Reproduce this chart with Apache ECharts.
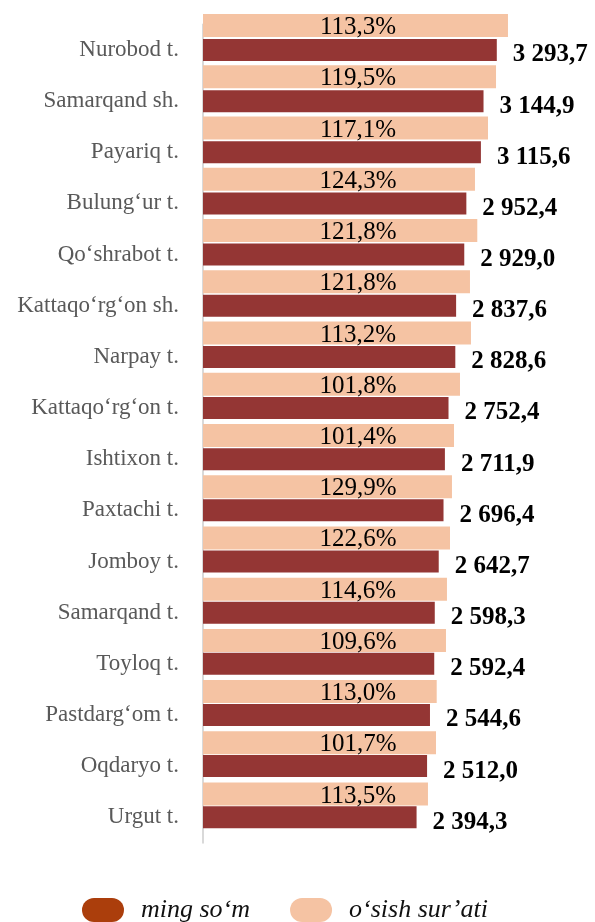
<!DOCTYPE html>
<html>
<head>
<meta charset="utf-8">
<title>Tumanlar</title>
<script src="https://cdn.jsdelivr.net/npm/echarts@6/dist/echarts.min.js"></script>
<style>
  html, body { margin: 0; padding: 0; background: #fff; }
  #chart { width: 595px; height: 922px; }
</style>
</head>
<body>
<div id="chart"></div>
<script>
// ma'lumotlar
var districts = [
  'Nurobod t.', 'Samarqand sh.', 'Payariq t.', 'Bulung‘ur t.', 'Qo‘shrabot t.',
  'Kattaqo‘rg‘on sh.', 'Narpay t.', 'Kattaqo‘rg‘on t.', 'Ishtixon t.', 'Paxtachi t.',
  'Jomboy t.', 'Samarqand t.', 'Toyloq t.', 'Pastdarg‘om t.', 'Oqdaryo t.', 'Urgut t.'
];
var amount = [3293.7, 3144.9, 3115.6, 2952.4, 2929.0, 2837.6, 2828.6, 2752.4,
  2711.9, 2696.4, 2642.7, 2598.3, 2592.4, 2544.6, 2512.0, 2394.3];
var growth = [113.3, 119.5, 117.1, 124.3, 121.8, 121.8, 113.2, 101.8,
  101.4, 129.9, 122.6, 114.6, 109.6, 113.0, 101.7, 113.5];
// length of the growth bars as drawn
var growthBar = [3419, 3285, 3195, 3049, 3075, 2993, 3004, 2881,
  2814, 2791, 2769, 2735, 2724, 2620, 2612, 2522];

(function () {
  var myChart = echarts.init(document.getElementById('chart'));
  var serif = "'Liberation Serif', 'DejaVu Serif', serif";

  function fmt(v) {
    var p = v.toFixed(1).split('.');
    return p[0].replace(/\B(?=(\d{3})+(?!\d))/g, ' ') + ',' + p[1];
  }

  var pill = 'path://M12,0 L30,0 A12,12 0 0 1 30,24 L12,24 A12,12 0 0 1 12,0 Z';

  var option = {
    animation: false,
    backgroundColor: '#fff',
    grid: [
      { left: 203, width: 356.8, top: 24.4, height: 818.4 },
      { left: 203, width: 356.8, top: -2.7, height: 822.4 }
    ],
    xAxis: [
      { gridIndex: 0, type: 'value', min: 0, max: 4000, show: false },
      { gridIndex: 1, type: 'value', min: 0, max: 4000, show: false }
    ],
    yAxis: [
      {
        gridIndex: 0, type: 'category', data: districts, inverse: true,
        axisLine: { show: true, lineStyle: { color: '#d9d9d9', width: 2 } },
        axisTick: { show: false },
        axisLabel: { margin: 24, color: '#595959', fontFamily: serif, fontSize: 23 }
      },
      { gridIndex: 1, type: 'category', data: districts, inverse: true, show: false }
    ],
    legend: {
      left: 82, top: 897, padding: 0,
      itemWidth: 42, itemHeight: 24, itemGap: 40,
      textStyle: { fontFamily: serif, fontStyle: 'italic', fontSize: 26, color: '#111', padding: [0, 0, 0, 12] },
      data: [
        { name: 'ming so‘m', icon: pill, itemStyle: { color: '#ab3e0c' } },
        { name: 'o‘sish sur’ati', icon: pill, itemStyle: { color: '#f5c3a3' } }
      ]
    },
    series: [
      {
        name: 'o‘sish sur’ati', type: 'bar', xAxisIndex: 1, yAxisIndex: 1,
        data: growthBar, barWidth: 23,
        itemStyle: { color: '#f5c3a3' },
        label: {
          show: true, position: [155, '50%'], align: 'center', verticalAlign: 'middle',
          offset: [0, 2],
          fontFamily: serif, fontSize: 25, color: '#000',
          formatter: function (p) { return growth[p.dataIndex].toFixed(1).replace('.', ',') + '%'; }
        }
      },
      {
        name: 'ming so‘m', type: 'bar', xAxisIndex: 0, yAxisIndex: 0,
        data: amount, barWidth: 22,
        itemStyle: { color: '#943634' },
        label: {
          show: true, position: 'right', distance: 16, offset: [0, 5],
          fontFamily: serif, fontSize: 25, fontWeight: 'bold', color: '#000',
          formatter: function (p) { return fmt(p.value); }
        }
      }
    ]
  };
  myChart.setOption(option);
})();
</script>
</body>
</html>
